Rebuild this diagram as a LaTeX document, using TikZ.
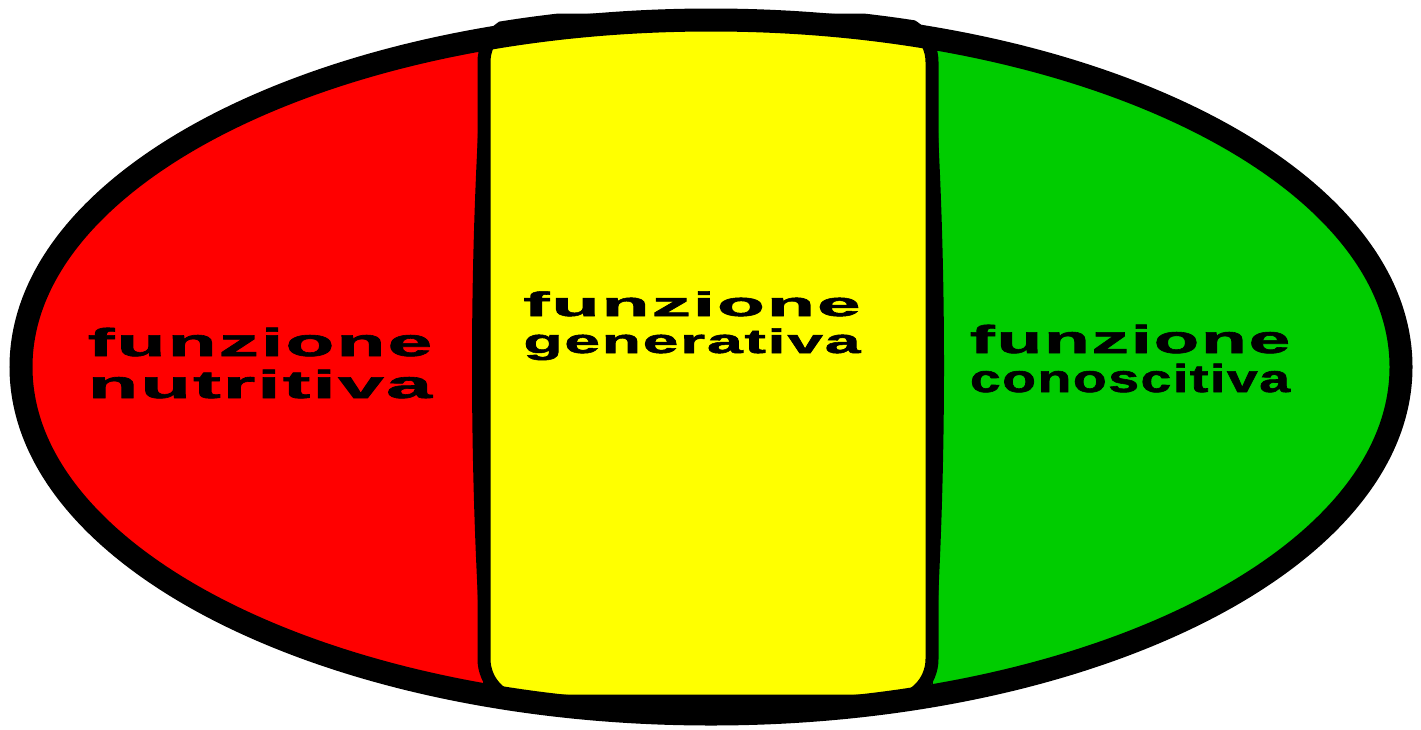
\documentclass[tikz,border=0pt]{standalone}
\usepackage{fontspec}
\setmainfont{Liberation Sans}
\newfontfamily\lblfont[LetterSpace=3,FakeBold=1.5]{Liberation Sans}
\usepackage{graphicx}
\newcommand\fitline[2]{\resizebox{#1}{\height}{#2}}
\definecolor{fnred}{RGB}{255,0,0}
\definecolor{fnyellow}{RGB}{255,255,0}
\definecolor{fngreen}{RGB}{0,204,0}
\begin{document}
\begin{tikzpicture}[x=1pt,y=-1pt,
  lbl/.style={anchor=base,inner sep=0pt,text=black},
  bigtxt/.style={lbl,font=\lblfont\bfseries\fontsize{39}{39}\selectfont},
  midtxt/.style={lbl,font=\lblfont\bfseries\fontsize{34}{34}\selectfont},
  outline/.style={draw=black,line width=23pt},
  boxline/.style={draw=black,line width=13pt}]
\useasboundingbox (0,0) rectangle (1421,729);
\fill[white] (0,0) rectangle (1421,729);
% halves
\begin{scope}
  \clip (711,367) ellipse [x radius=690pt, y radius=347pt];
  \fill[fnred] (0,0) rectangle (711,729);
  \fill[fngreen] (711,0) rectangle (1421,729);
\end{scope}
% curved borders of the halves
\fill[black] (484,40) .. controls (468,250) and (468,480) .. (484,695) -- cycle;
\fill[black] (932,40) .. controls (948,250) and (948,480) .. (932,695) -- cycle;
% middle rounded rectangle (only slightly showing beyond the outline)
\begin{scope}
  \clip (711,367) ellipse [x radius=705pt, y radius=362pt];
  \path[boxline,fill=fnyellow,rounded corners=42pt] (484,20) rectangle (932,701);
\end{scope}
% outer ellipse
\path[outline] (711,367) ellipse [x radius=690pt, y radius=347pt];
% labels
\node[bigtxt] (l1) at (260,356) {\fitline{344pt}{funzione}};
\node[bigtxt] (l2) at (260,398) {\fitline{344pt}{nutritiva}};
\node[midtxt] (m1) at (692,316) {\fitline{337pt}{funzione}};
\node[midtxt] (m2) at (692,353) {\fitline{337pt}{generativa}};
\node[bigtxt] (r1) at (1130,353) {\fitline{320pt}{funzione}};
\node[bigtxt] (r2) at (1130,392) {\fitline{320pt}{conoscitiva}};
\end{tikzpicture}
\end{document}
